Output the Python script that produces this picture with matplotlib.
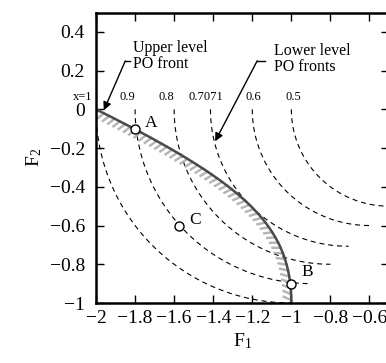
import numpy as np
import matplotlib
matplotlib.use("Agg")
import matplotlib.pyplot as plt
import matplotlib.patheffects as pe

plt.rcParams['font.family'] = ['Liberation Serif', 'DejaVu Serif']
plt.rcParams['mathtext.default'] = 'regular'

# lower level PO fronts: quarter circles of radius x centred at (-x, 0)
x_levels = [1.0, 0.9, 0.8, 0.7071, 0.6, 0.5]
x_labels = ['x=1', '0.9', '0.8', '0.7071', '0.6', '0.5']
label_f1 = [-2.07, -1.84, -1.64, -1.44, -1.195, -0.99]
label_f2 = 0.065

# marked solutions
pt_names = ['A', 'B', 'C']
pt_f1 = [-1.8, -1.0, -1.574]
pt_f2 = [-0.1, -0.9, -0.604]

xticks = [-2, -1.8, -1.6, -1.4, -1.2, -1, -0.8, -0.6]
yticks = [-1, -0.8, -0.6, -0.4, -0.2, 0, 0.2, 0.4]

fig = plt.figure(figsize=(3.86, 3.63), dpi=100)
ax = fig.add_axes([96 / 386, 60 / 363, 293 / 386, 290.5 / 363])

theta = np.linspace(np.pi, 1.5 * np.pi, 200)
for xv in x_levels:
    ax.plot(-xv + xv * np.cos(theta), xv * np.sin(theta), color='black',
            lw=0.8, dashes=(4.5, 3.5))
for xl, lab in zip(label_f1, x_labels):
    ax.text(xl, label_f2, lab, fontsize=9, ha='center', va='center')

# upper level PO front: y1 + y2 = -1 on the lower level front, x in [1/sqrt2, 1]
xs = np.linspace(1 / np.sqrt(2), 1.0, 300)
root = np.sqrt(np.clip(8 * xs ** 2 - 4, 0, None)) / 4
y2_up = -0.5 + root
y2_lo = -0.5 - root
f1 = np.concatenate([(-1 - y2_up - xs)[::-1], -1 - y2_lo - xs])
f2 = np.concatenate([y2_up[::-1], y2_lo])
ax.plot(f1, f2, color='none', lw=0,
        path_effects=[pe.withTickedStroke(angle=-115, spacing=4.2, length=1.4,
                                          linewidth=1.7, foreground='#b4b4b4')])
ax.plot(f1, f2, color='#4a4a4a', lw=1.8, solid_capstyle='butt')

ax.plot(pt_f1, pt_f2, 'o', ms=6.5, mfc='white', mec='black', mew=1.0)
offsets = [(0.05, 0.03), (0.05, 0.06), (0.05, 0.03)]
for name, px, py, (dx, dy) in zip(pt_names, pt_f1, pt_f2, offsets):
    ax.text(px + dx, py + dy, name, fontsize=12.5, ha='left', va='center')

ax.annotate('', xy=(-1.96, -0.005), xytext=(-1.85, 0.25),
            arrowprops=dict(arrowstyle='-|>', color='black', lw=1.0,
                            mutation_scale=12, shrinkA=0, shrinkB=0))
ax.plot([-1.85, -1.825], [0.25, 0.25], color='black', lw=1.0)
ax.text(-1.81, 0.275, 'Upper level\nPO front', fontsize=11.5, ha='left',
        va='center', linespacing=0.95)

ax.annotate('', xy=(-1.39, -0.165), xytext=(-1.175, 0.25),
            arrowprops=dict(arrowstyle='-|>', color='black', lw=1.0,
                            mutation_scale=12, shrinkA=0, shrinkB=0))
ax.plot([-1.175, -1.135], [0.25, 0.25], color='black', lw=1.0)
ax.text(-1.09, 0.26, 'Lower level\nPO fronts', fontsize=11.5, ha='left',
        va='center', linespacing=0.95)

ax.set_xlim(-2, -0.5)
ax.set_ylim(-1, 0.5)
ax.set_xticks(xticks)
ax.set_xticklabels(['\u22122', '\u22121.8', '\u22121.6', '\u22121.4', '\u22121.2',
                    '\u22121', '\u22120.8', '\u22120.6'])
ax.set_yticks(yticks)
ax.set_yticklabels(['\u22121', '\u22120.8', '\u22120.6', '\u22120.4', '\u22120.2',
                    '0', '0.2', '0.4'])
ax.tick_params(direction='in', top=True, right=True, length=6, width=1.0,
               labelsize=14)
ax.tick_params(axis='y', pad=8)
ax.tick_params(axis='x', pad=5)
for s in ax.spines.values():
    s.set_linewidth(1.8)

ax.set_xlabel('F$_1$', fontsize=14, labelpad=3)
ax.set_ylabel('F$_2$', fontsize=14, labelpad=4)

fig.savefig('out.png', dpi=100)
